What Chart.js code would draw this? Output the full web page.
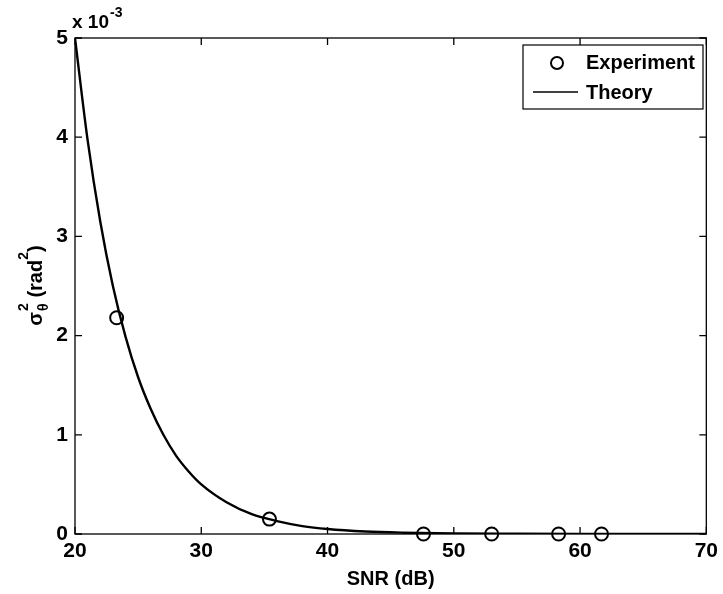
<!DOCTYPE html>
<html>
<head>
<meta charset="utf-8">
<script src="https://cdn.jsdelivr.net/npm/chart.js@4.4.0/dist/chart.umd.min.js"></script>
<style>
  html, body { margin: 0; padding: 0; background: #fff; }
</style>
</head>
<body>
<canvas id="snrChart" width="723" height="594"></canvas>
<script>
const FONT = '"Liberation Sans", Arial, Helvetica, sans-serif';

// measured points (SNR in dB, variance in rad^2)
const expSnr = [23.3, 35.4, 47.6, 53.0, 58.3, 61.7];
const expVar = [2.18e-3, 0.15e-3, 0, 0, 0, 0];

// theory curve
const theorySnr = [20, 21, 22, 23, 24, 25, 26, 27, 28, 29, 30, 32, 34, 36, 38, 40, 43, 46, 50, 55, 60, 65, 70];
const theoryVar = [5.0e-3, 3.97e-3, 3.15e-3, 2.5e-3, 1.99e-3, 1.58e-3, 1.26e-3, 1.0e-3, 0.79e-3, 0.63e-3,
                   0.5e-3, 0.32e-3, 0.2e-3, 0.13e-3, 0.08e-3, 0.05e-3, 0.025e-3, 0.013e-3, 0.005e-3,
                   0.002e-3, 0.0005e-3, 0.0002e-3, 0.00005e-3];

const xTicks = [20, 30, 40, 50, 60, 70];
const yTicks = [0, 1, 2, 3, 4, 5];   // in units of 1e-3
const yScaleExp = 1e-3;

function toPoints(xs, ys) {
  return xs.map((x, i) => ({ x: x, y: ys[i] }));
}

// draws the matlab style box, inward ticks, legend and the axis labels
const matlabAxes = {
  id: 'matlabAxes',
  afterDraw(chart) {
    const ctx = chart.ctx;
    const area = chart.chartArea;
    const xs = chart.scales.x, ys = chart.scales.y;
    const tick = 7;

    ctx.save();
    ctx.strokeStyle = '#000';
    ctx.lineWidth = 1.3;
    ctx.strokeRect(area.left, area.top, area.right - area.left, area.bottom - area.top);

    ctx.beginPath();
    xTicks.forEach(v => {
      const px = xs.getPixelForValue(v);
      ctx.moveTo(px, area.bottom); ctx.lineTo(px, area.bottom - tick);
      ctx.moveTo(px, area.top); ctx.lineTo(px, area.top + tick);
    });
    yTicks.forEach(v => {
      const py = ys.getPixelForValue(v * yScaleExp);
      ctx.moveTo(area.left, py); ctx.lineTo(area.left + tick, py);
      ctx.moveTo(area.right, py); ctx.lineTo(area.right - tick, py);
    });
    ctx.stroke();

    ctx.fillStyle = '#000';

    // exponent label
    ctx.textBaseline = 'alphabetic';
    ctx.textAlign = 'left';
    ctx.font = 'bold 19px ' + FONT;
    ctx.fillText('x 10', area.left - 3, 28);
    const wBase = ctx.measureText('x 10').width;
    ctx.font = 'bold 14px ' + FONT;
    ctx.fillText('-3', area.left - 3 + wBase + 1, 17);

    // x title
    ctx.font = 'bold 20px ' + FONT;
    ctx.textAlign = 'center';
    ctx.textBaseline = 'middle';
    ctx.fillText('SNR (dB)', (area.left + area.right) / 2, 579);

    // y title, rotated, with super/subscripts
    const mainF = 'bold 20px ' + FONT;
    const smallF = 'bold 14px ' + FONT;
    ctx.font = mainF;
    const wSig = ctx.measureText('\u03c3').width;
    const wRad = ctx.measureText(' (rad').width;
    const wPar = ctx.measureText(')').width;
    ctx.font = smallF;
    const wSup = Math.max(ctx.measureText('2').width, ctx.measureText('\u03b8').width);
    const w2 = ctx.measureText('2').width;
    const total = wSig + wSup + wRad + w2 + wPar;
    const cy = (area.top + area.bottom) / 2;
    ctx.translate(42, cy);
    ctx.rotate(-Math.PI / 2);
    ctx.textAlign = 'left';
    ctx.textBaseline = 'alphabetic';
    let x = -total / 2;
    ctx.font = mainF;
    ctx.fillText('\u03c3', x, 0);
    x += wSig + 1;
    ctx.font = smallF;
    ctx.fillText('2', x, -14);
    ctx.fillText('\u03b8', x, 6);
    x += wSup;
    ctx.font = mainF;
    ctx.fillText(' (rad', x, 0);
    x += wRad;
    ctx.font = smallF;
    ctx.fillText('2', x, -14);
    x += w2;
    ctx.font = mainF;
    ctx.fillText(')', x, 0);
    ctx.restore();

    // legend
    ctx.save();
    ctx.strokeStyle = '#000';
    ctx.fillStyle = '#fff';
    ctx.lineWidth = 1.2;
    ctx.fillRect(523, 45, 180, 64);
    ctx.strokeRect(523, 45, 180, 64);
    ctx.lineWidth = 2;
    ctx.beginPath();
    ctx.arc(557, 63, 6, 0, Math.PI * 2);
    ctx.stroke();
    ctx.lineWidth = 1.5;
    ctx.beginPath();
    ctx.moveTo(533, 92); ctx.lineTo(578, 92);
    ctx.stroke();
    ctx.fillStyle = '#000';
    ctx.font = 'bold 20px ' + FONT;
    ctx.textAlign = 'left';
    ctx.textBaseline = 'middle';
    ctx.fillText('Experiment', 586, 63);
    ctx.fillText('Theory', 586, 93);
    ctx.restore();
  }
};

const ctx = document.getElementById('snrChart').getContext('2d');
const snrChart = new Chart(ctx, {
  type: 'scatter',
  data: {
    datasets: [{
      label: 'Experiment',
      data: toPoints(expSnr, expVar),
      showLine: false,
      pointStyle: 'circle',
      pointRadius: 6.5,
      pointBorderWidth: 2,
      pointBorderColor: '#000',
      pointBackgroundColor: 'rgba(0,0,0,0)',
      clip: false
    }, {
      label: 'Theory',
      data: toPoints(theorySnr, theoryVar),
      showLine: true,
      pointRadius: 0,
      borderColor: '#000',
      borderWidth: 2.4,
      cubicInterpolationMode: 'monotone'
    }]
  },
  options: {
    responsive: false,
    animation: false,
    devicePixelRatio: 1,
    layout: {
      padding: { top: 38, right: 13, left: 0, bottom: 0 }
    },
    scales: {
      x: {
        type: 'linear',
        min: 20,
        max: 70,
        afterBuildTicks: s => { s.ticks = xTicks.map(v => ({ value: v })); },
        afterFit: s => { s.height = 60; },
        grid: { display: false, drawTicks: false },
        border: { display: false },
        ticks: {
          color: '#000',
          padding: 5,
          maxRotation: 0,
          font: { family: FONT, size: 21, weight: 'bold' }
        }
      },
      y: {
        type: 'linear',
        min: 0,
        max: 5e-3,
        afterBuildTicks: s => { s.ticks = yTicks.map(v => ({ value: v * yScaleExp })); },
        afterFit: s => { s.width = 75; },
        grid: { display: false, drawTicks: false },
        border: { display: false },
        ticks: {
          color: '#000',
          padding: 7,
          font: { family: FONT, size: 21, weight: 'bold' },
          callback: v => String(Math.round(v / yScaleExp))
        }
      }
    },
    plugins: {
      legend: { display: false },
      tooltip: { enabled: false }
    }
  },
  plugins: [matlabAxes]
});
</script>
</body>
</html>
